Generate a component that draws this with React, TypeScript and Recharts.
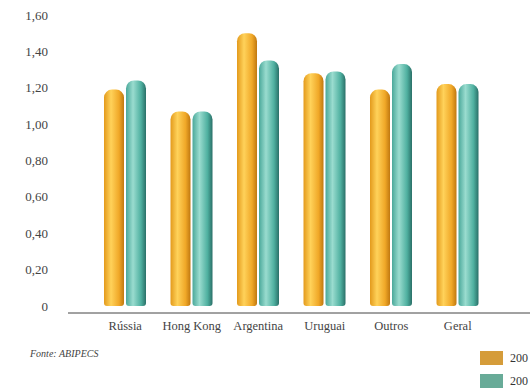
import { BarChart, Bar, XAxis, YAxis } from 'recharts';

const CATEGORIES = ['Rússia', 'Hong Kong', 'Argentina', 'Uruguai', 'Outros', 'Geral'];
const SERIES_A = [1.19, 1.07, 1.5, 1.28, 1.19, 1.22];
const SERIES_B = [1.24, 1.07, 1.35, 1.29, 1.33, 1.22];
const SERIES_NAMES = ['200', '200'];
const Y_TICKS = [0, 0.2, 0.4, 0.6, 0.8, 1.0, 1.2, 1.4, 1.6];

const SWATCH = ['#d59c3a', '#68ab98'];
const FONT = 'Liberation Serif, DejaVu Serif, serif';

const data = CATEGORIES.map((c, i) => ({ name: c, a: SERIES_A[i], b: SERIES_B[i] }));

const fmt = (v: number) => (v === 0 ? '0' : v.toFixed(2).replace('.', ','));

export default function App() {
  return (
    <div
      style={{
        position: 'absolute',
        left: 0,
        top: 0,
        width: 530,
        height: 390,
        overflow: 'hidden',
        background: '#fff',
        fontFamily: FONT,
      }}
    >
      <BarChart
        width={530}
        height={390}
        data={data}
        margin={{ top: 15, right: 0, bottom: 47, left: 0 }}
        barSize={20}
        barGap={2}
        style={{ fontFamily: FONT }}
      >
        <defs>
          <linearGradient id="gOrange" x1="0" y1="0" x2="1" y2="0">
            <stop offset="0%" stopColor="#e39a1c" />
            <stop offset="35%" stopColor="#ffd25a" />
            <stop offset="75%" stopColor="#f0a828" />
            <stop offset="100%" stopColor="#c07810" />
          </linearGradient>
          <linearGradient id="gTeal" x1="0" y1="0" x2="1" y2="0">
            <stop offset="0%" stopColor="#4aa89a" />
            <stop offset="35%" stopColor="#9adccf" />
            <stop offset="75%" stopColor="#4fb0a0" />
            <stop offset="100%" stopColor="#2a7068" />
          </linearGradient>
        </defs>
        <XAxis
          dataKey="name"
          padding={{ left: 24, right: 39 }}
          tickLine={false}
          tickSize={0}
          tickMargin={8}
          axisLine={{ stroke: '#444', strokeWidth: 1 }}
          tick={{ fill: '#444', fontSize: 12.5, fontFamily: FONT }}
          interval={0}
          height={30}
        />
        <YAxis
          type="number"
          domain={[-0.0385, 1.6]}
          ticks={Y_TICKS}
          tickFormatter={fmt}
          width={68}
          axisLine={false}
          tickLine={false}
          tickSize={0}
          tickMargin={20}
          tick={{ fill: '#444', fontSize: 13, fontFamily: FONT }}
        />
        <Bar dataKey="a" name={SERIES_NAMES[0]} fill="url(#gOrange)" radius={[8, 8, 3, 3]} isAnimationActive={false} />
        <Bar dataKey="b" name={SERIES_NAMES[1]} fill="url(#gTeal)" radius={[8, 8, 3, 3]} isAnimationActive={false} />
      </BarChart>
      <div
        style={{
          position: 'absolute',
          left: 30,
          top: 348,
          fontSize: 10,
          fontStyle: 'italic',
          color: '#444',
        }}
      >
        Fonte: ABIPECS
      </div>
      {SERIES_NAMES.map((n, i) => (
        <div
          key={i}
          style={{
            position: 'absolute',
            left: 480,
            top: 351 + i * 23,
            height: 14,
            display: 'flex',
            alignItems: 'center',
            fontSize: 12,
            color: '#333',
            whiteSpace: 'nowrap',
          }}
        >
          <span style={{ display: 'inline-block', width: 23, height: 14, background: SWATCH[i], marginRight: 7 }} />
          {n}
        </div>
      ))}
    </div>
  );
}
